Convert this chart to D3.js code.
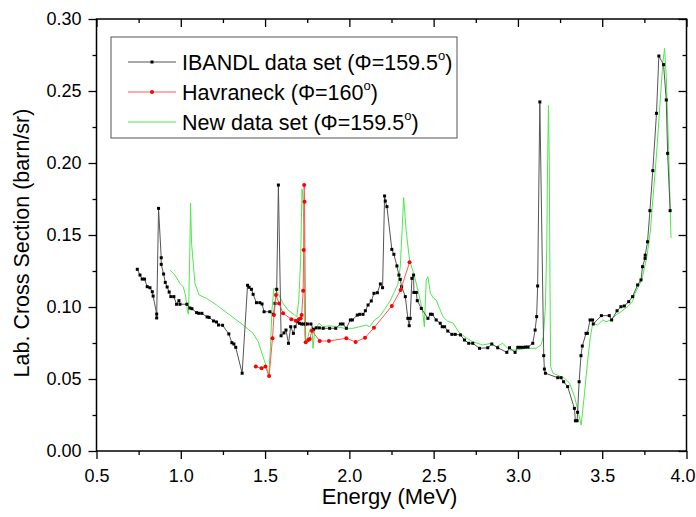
<!DOCTYPE html>
<html><head><meta charset="utf-8">
<script src="https://cdn.jsdelivr.net/npm/d3@7"></script>
<style>body{margin:0;background:#fff}svg{display:block}text{font-family:Arial,"Liberation Sans",sans-serif}</style>
</head><body>
<svg id="c" width="696" height="517"></svg>
<script>
const xTicks = [0.5,1.0,1.5,2.0,2.5,3.0,3.5,4.0];
const yTicks = [0.00,0.05,0.10,0.15,0.20,0.25,0.30];
const xLabel = "Energy (MeV)";
const yLabel = "Lab. Cross Section (barn/sr)";
const seriesNames = ["IBANDL data set (\u03A6=159.5", "Havraneck (\u03A6=160", "New data set (\u03A6=159.5"];

const ibandlE = [0.742,0.758,0.771,0.785,0.801,0.817,0.831,0.836,0.857,0.857,0.868,0.884,0.884,0.898,0.908,0.919,0.931,0.941,0.959,0.975,0.989,0.995,1.036,1.054,1.066,1.094,1.107,1.125,1.156,1.168,1.194,1.212,1.224,1.248,1.285,1.303,1.315,1.326,1.364,1.396,1.405,1.419,1.429,1.449,1.469,1.482,1.494,1.528,1.550,1.559,1.569,1.579,1.595,1.612,1.624,1.639,1.652,1.668,1.678,1.694,1.704,1.716,1.728,1.740,1.751,1.772,1.787,1.803,1.822,1.845,1.883,1.919,1.947,1.962,1.982,2.006,2.018,2.047,2.061,2.081,2.095,2.111,2.130,2.146,2.166,2.184,2.197,2.209,2.213,2.223,2.252,2.264,2.282,2.294,2.302,2.310,2.332,2.347,2.355,2.361,2.371,2.381,2.383,2.397,2.403,2.427,2.466,2.481,2.492,2.515,2.539,2.551,2.565,2.584,2.608,2.628,2.659,2.683,2.708,2.732,2.772,2.821,2.845,2.880,2.934,2.950,2.983,2.999,3.015,3.030,3.045,3.060,3.088,3.102,3.111,3.117,3.130,3.153,3.157,3.163,3.236,3.256,3.271,3.295,3.335,3.341,3.351,3.354,3.363,3.374,3.382,3.404,3.412,3.428,3.443,3.447,3.495,3.542,3.556,3.588,3.611,3.631,3.657,3.680,3.710,3.730,3.739,3.754,3.755,3.769,3.783,3.800,3.822,3.836,3.864,3.880,3.888,3.903];
const ibandlV = [0.1262,0.1222,0.1194,0.1194,0.1141,0.1134,0.1106,0.1076,0.0951,0.0924,0.1685,0.1342,0.1296,0.1229,0.1171,0.1139,0.1104,0.1072,0.1072,0.1019,0.1044,0.1019,0.1019,0.0993,0.0988,0.0961,0.0956,0.0956,0.0931,0.0928,0.0903,0.0896,0.0875,0.0873,0.0813,0.0752,0.0743,0.0720,0.0540,0.1151,0.1137,0.1123,0.1088,0.1030,0.1030,0.1021,0.0967,0.0967,0.0949,0.1025,0.1123,0.1847,0.0800,0.0820,0.0840,0.0748,0.0863,0.0817,0.0863,0.0898,0.0887,0.0882,0.0882,0.0882,0.0882,0.0882,0.0845,0.0855,0.0855,0.0852,0.0852,0.0852,0.0882,0.0882,0.0852,0.0910,0.0910,0.0944,0.0949,0.0949,0.0974,0.1014,0.1042,0.1095,0.1099,0.1160,0.1134,0.1771,0.1736,0.1697,0.1400,0.1366,0.1285,0.1222,0.1192,0.1141,0.1072,0.0921,0.0870,0.0921,0.1199,0.1222,0.1101,0.1101,0.1044,0.0990,0.0921,0.0950,0.0949,0.0910,0.0887,0.0863,0.0863,0.0833,0.0810,0.0810,0.0806,0.0771,0.0748,0.0748,0.0713,0.0717,0.0743,0.0717,0.0685,0.0717,0.0685,0.0720,0.0720,0.0720,0.0722,0.0722,0.0748,0.0840,0.0933,0.1146,0.2424,0.0662,0.0569,0.0540,0.0509,0.0509,0.0481,0.0447,0.0296,0.0210,0.0210,0.0269,0.0481,0.0662,0.0729,0.0817,0.0817,0.0910,0.0910,0.0882,0.0940,0.0940,0.0910,0.0974,0.1002,0.1007,0.1037,0.1072,0.1153,0.1188,0.1280,0.1338,0.1360,0.1453,0.1669,0.1947,0.2345,0.2743,0.2683,0.2438,0.2067,0.1669];

const havE = [1.445,1.479,1.502,1.524,1.544,1.553,1.565,1.583,1.607,1.656,1.682,1.700,1.711,1.717,1.726,1.729,1.732,1.734,1.741,1.757,1.765,1.778,1.824,1.879,1.982,2.037,2.093,2.146,2.252,2.304,2.357];
const havV = [0.0586,0.0574,0.0586,0.0521,0.0783,0.0944,0.1083,0.1025,0.0956,0.0915,0.0905,0.0915,0.0921,0.0944,0.1113,0.1396,0.1847,0.1731,0.0755,0.0771,0.0778,0.0835,0.0764,0.0764,0.0783,0.0757,0.0787,0.0856,0.1007,0.1118,0.1310];

const newE = [0.935,0.965,0.995,1.014,1.028,1.040,1.046,1.054,1.058,1.064,1.084,1.109,1.153,1.212,1.291,1.370,1.429,1.459,1.488,1.508,1.522,1.532,1.541,1.552,1.567,1.587,1.607,1.636,1.676,1.688,1.700,1.705,1.711,1.719,1.725,1.731,1.735,1.741,1.755,1.765,1.779,1.784,1.795,1.820,1.844,1.883,1.923,1.972,2.021,2.061,2.101,2.120,2.150,2.179,2.209,2.239,2.268,2.288,2.302,2.314,2.322,2.337,2.357,2.387,2.416,2.436,2.445,2.456,2.466,2.481,2.501,2.515,2.531,2.555,2.584,2.614,2.653,2.700,2.732,2.791,2.841,2.871,2.910,2.950,2.989,3.049,3.108,3.137,3.151,3.163,3.171,3.176,3.181,3.186,3.190,3.194,3.208,3.277,3.306,3.336,3.355,3.375,3.395,3.414,3.430,3.444,3.473,3.503,3.523,3.552,3.582,3.611,3.651,3.680,3.695,3.735,3.765,3.784,3.805,3.824,3.845,3.860,3.870,3.880,3.894,3.908];
const newV = [0.1257,0.1222,0.1164,0.1141,0.1083,0.0967,0.0950,0.1419,0.1720,0.1442,0.1164,0.1083,0.1060,0.1014,0.0944,0.0875,0.0817,0.0759,0.0655,0.0586,0.0521,0.0724,0.0979,0.1130,0.1113,0.1072,0.1025,0.0979,0.0944,0.0930,0.1049,0.1176,0.1326,0.1820,0.1743,0.1558,0.0794,0.0759,0.0794,0.0840,0.0863,0.0713,0.0840,0.0887,0.0863,0.0870,0.0863,0.0852,0.0852,0.0863,0.0875,0.0863,0.0910,0.0933,0.0984,0.1037,0.1106,0.1160,0.1280,0.1558,0.1760,0.1530,0.1326,0.1210,0.1070,0.0956,0.0863,0.1188,0.1210,0.1095,0.1060,0.1049,0.1002,0.0933,0.0900,0.0890,0.0820,0.0780,0.0759,0.0736,0.0748,0.0724,0.0748,0.0701,0.0701,0.0713,0.0713,0.0736,0.0794,0.1002,0.1419,0.2000,0.2400,0.2000,0.1200,0.0586,0.0540,0.0505,0.0470,0.0377,0.0285,0.0180,0.0400,0.0632,0.0794,0.0887,0.0875,0.0910,0.0898,0.0910,0.0944,0.0967,0.1002,0.1037,0.1095,0.1188,0.1350,0.1510,0.1813,0.2090,0.2450,0.2700,0.2796,0.2600,0.2090,0.1480];

const L = 96.5, R = 686.5, T = 19, B = 451;
const svg = d3.select("#c");
const x = d3.scaleLinear().domain([0.5,4.0]).range([L,R]);
const y = d3.scaleLinear().domain([0,0.30]).range([B,T]);
const xMinor = d3.range(0.75,4.0,0.5);
const yMinor = d3.range(0.025,0.30,0.05);

const fontTick = 18;
const gx = svg.append("g").attr("transform",`translate(0,${B})`)
  .call(d3.axisBottom(x).tickValues(xTicks).tickFormat(d3.format(".1f")).tickSize(8).tickPadding(10));
svg.append("g").attr("transform",`translate(0,${B})`).call(d3.axisBottom(x).tickValues(xMinor).tickFormat("").tickSize(4));
svg.append("g").attr("transform",`translate(${L},0)`)
  .call(d3.axisLeft(y).tickValues(yTicks).tickFormat(d3.format(".2f")).tickSize(8).tickPadding(7));
svg.append("g").attr("transform",`translate(${L},0)`).call(d3.axisLeft(y).tickValues(yMinor).tickFormat("").tickSize(4));
svg.append("g").attr("transform",`translate(0,${T})`).call(d3.axisBottom(x).tickValues(xTicks).tickFormat("").tickSize(8));
svg.append("g").attr("transform",`translate(0,${T})`).call(d3.axisBottom(x).tickValues(xMinor).tickFormat("").tickSize(4));
svg.append("g").attr("transform",`translate(${R},0)`).call(d3.axisLeft(y).tickValues(yTicks).tickFormat("").tickSize(8));
svg.append("g").attr("transform",`translate(${R},0)`).call(d3.axisLeft(y).tickValues(yMinor).tickFormat("").tickSize(4));
svg.selectAll(".domain").remove();
svg.selectAll(".tick line").attr("stroke","#000").attr("stroke-width",1.3);
svg.selectAll(".tick text").attr("font-size",fontTick).attr("fill","#000").style("font-family","Arial, 'Liberation Sans', sans-serif");
// keep last x label inside the window
gx.selectAll(".tick text").filter(d=>d===4.0).attr("dx",-4);

svg.append("rect").attr("x",L).attr("y",T).attr("width",R-L).attr("height",B-T)
  .attr("fill","none").attr("stroke","#000").attr("stroke-width",1.5);

svg.append("text").attr("x",(L+R)/2 - 2).attr("y",504).attr("text-anchor","middle").attr("font-size",22).text(xLabel);
svg.append("text").attr("transform",`translate(29,${(T+B)/2 + 8}) rotate(-90)`).attr("text-anchor","middle").attr("font-size",21.5).text(yLabel);

svg.append("clipPath").attr("id","pc").append("rect").attr("x",L).attr("y",T).attr("width",R-L).attr("height",B-T);
const plot = svg.append("g").attr("clip-path","url(#pc)");
const line = d3.line().x(d=>x(d[0])).y(d=>y(d[1]));
const ib = ibandlE.map((e,i)=>[e,ibandlV[i]]);
const hv = havE.map((e,i)=>[e,havV[i]]);
const nw = newE.map((e,i)=>[e,newV[i]]);

plot.append("path").datum(nw).attr("d",line).attr("fill","none").attr("stroke","#4ee84e").attr("stroke-width",1);
plot.append("path").datum(ib).attr("d",line).attr("fill","none").attr("stroke","#555").attr("stroke-width",1);
plot.selectAll(".ibm").data(ib).enter().append("rect").attr("x",d=>x(d[0])-1.5).attr("y",d=>y(d[1])-1.5).attr("width",3).attr("height",3).attr("fill","#000");
plot.append("path").datum(hv).attr("d",line).attr("fill","none").attr("stroke","#f55").attr("stroke-width",1);
plot.selectAll(".hvm").data(hv).enter().append("circle").attr("cx",d=>x(d[0])).attr("cy",d=>y(d[1])).attr("r",2).attr("fill","#f00");

const lg = svg.append("g");
lg.append("rect").attr("x",111).attr("y",37).attr("width",346).attr("height",101).attr("fill","#fff").attr("stroke","#555").attr("stroke-width",1);
const rows = [62,92,122];
const lcol = ["#555","#f55","#4ee84e"];
rows.forEach((ry,i)=>{
  lg.append("line").attr("x1",128).attr("x2",176).attr("y1",ry).attr("y2",ry).attr("stroke",lcol[i]).attr("stroke-width",1);
  if(i===0) lg.append("rect").attr("x",150.5).attr("y",ry-1.5).attr("width",3).attr("height",3).attr("fill","#000");
  if(i===1) lg.append("circle").attr("cx",152).attr("cy",ry).attr("r",2).attr("fill","#f00");
  const t = lg.append("text").attr("x",182).attr("y",ry+8).attr("font-size",21.5);
  t.append("tspan").text(seriesNames[i]);
  t.append("tspan").attr("dy",-10).attr("font-size",13).text("o");
  t.append("tspan").attr("dy",10).text(")");
});
</script>
</body></html>
